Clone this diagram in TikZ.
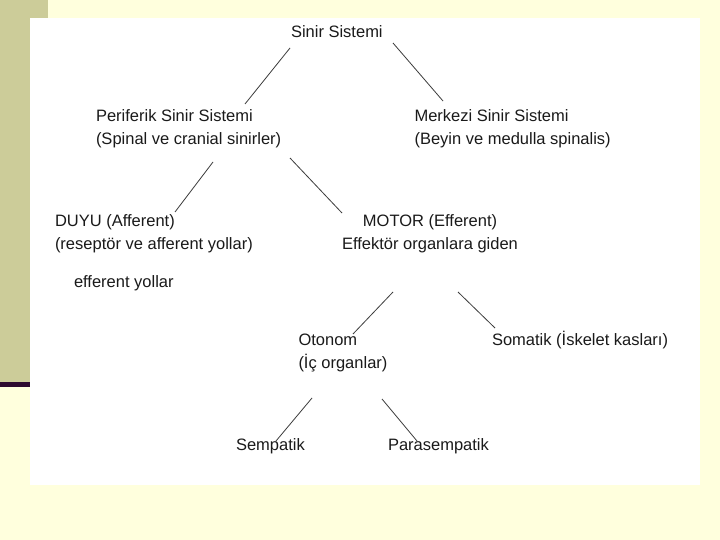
\documentclass[tikz,border=0pt]{standalone}
\usepackage{fontspec}
\setmainfont{Liberation Sans}
\definecolor{bgyellow}{HTML}{FFFFDD}
\definecolor{barolive}{HTML}{CCCC99}
\definecolor{darkbar}{HTML}{2E0A2E}
\definecolor{txt}{HTML}{1A1A1A}
\definecolor{conncol}{HTML}{3C3C3C}
\tikzset{
  lbl/.style={inner sep=0pt, outer sep=0pt, text=txt, font=\fontsize{16.5}{23.5}\selectfont},
  lblL/.style={lbl, anchor=base west, align=left},
  lblC/.style={lbl, anchor=base, align=center},
  conn/.style={draw=conncol, line width=0.8pt}
}
\begin{document}
\begin{tikzpicture}[x=1pt,y=-1pt]
\useasboundingbox (0,0) rectangle (720,540);
% background
\fill[bgyellow] (0,0) rectangle (720,540);
\fill[barolive] (0,0) rectangle (48,382);
\fill[darkbar] (0,382) rectangle (30,387);
\fill[white] (30,18) rectangle (700,485);
% nodes (base anchor of a two-line node = baseline of its last line)
\node[lblL] (ss) at (291,37.5) {Sinir Sistemi};
\node[lblL] (per) at (96,145) {Periferik Sinir Sistemi\\(Spinal ve cranial sinirler)};
\node[lblL] (mer) at (414.5,145) {Merkezi Sinir Sistemi\\(Beyin ve medulla spinalis)};
\node[lblL] (duyu) at (55,249.5) {DUYU (Afferent)\\(reseptör ve afferent yollar)};
\node[lblC] (motor) at (430,249.5) {MOTOR (Efferent)\\Effektör organlara giden};
\node[lblL] (eff) at (74,287.5) {efferent yollar};
\node[lblL] (oto) at (298.5,368.5) {Otonom\\(İç organlar)};
\node[lblL] (som) at (492,345) {Somatik (İskelet kasları)};
\node[lblL] (semp) at (236,450) {Sempatik};
\node[lblL] (para) at (388,450) {Parasempatik};
% connectors
\draw[conn] ([shift={(-1,10.5)}]ss.base west) -- ([shift={(149,-41)}]per.base west);
\draw[conn] ([shift={(102,5.5)}]ss.base west) -- ([shift={(28.5,-44)}]mer.base west);
\draw[conn] ([shift={(117,17)}]per.base west) -- ([shift={(120,-37.5)}]duyu.base west);
\draw[conn] ([shift={(194,13)}]per.base west) -- ([shift={(-88,-36.5)}]motor.base);
\draw[conn] ([shift={(-37,42.5)}]motor.base) -- ([shift={(54.5,-34.5)}]oto.base west);
\draw[conn] ([shift={(28,42.5)}]motor.base) -- ([shift={(3,-17)}]som.base west);
\draw[conn] ([shift={(13.5,29.5)}]oto.base west) -- ([shift={(40,-9)}]semp.base west);
\draw[conn] ([shift={(83.5,30.5)}]oto.base west) -- ([shift={(29,-9)}]para.base west);
\end{tikzpicture}
\end{document}
